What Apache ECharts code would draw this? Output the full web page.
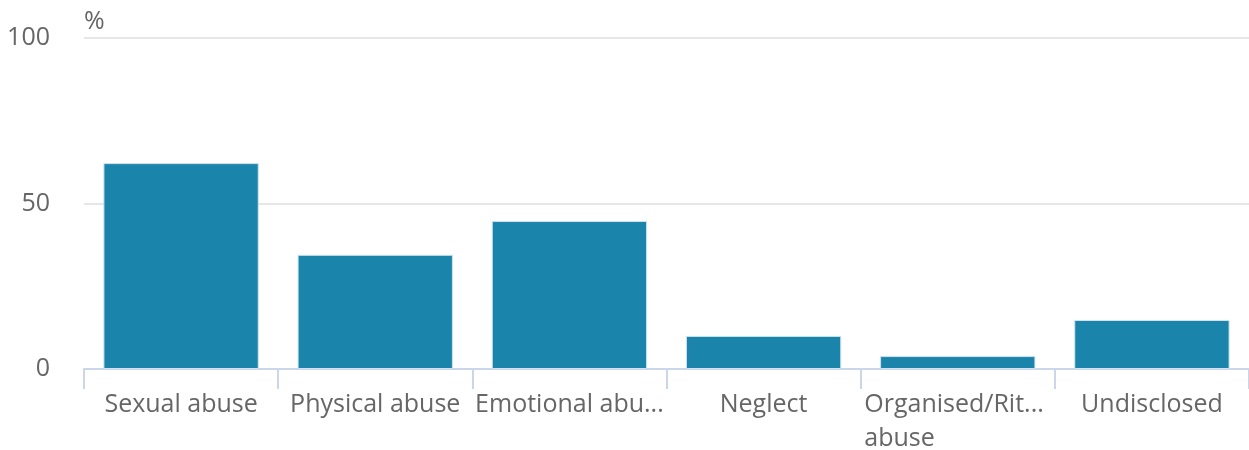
<!DOCTYPE html>
<html>
<head>
<meta charset="utf-8">
<script src="https://cdn.jsdelivr.net/npm/echarts@6/dist/echarts.min.js"></script>
<style>
  html, body { margin: 0; padding: 0; background: #fff; }
  #chart { width: 1249px; height: 450px; }
</style>
</head>
<body>
<div id="chart"></div>
<script>
// abuse types and share of respondents (%)
const categories = ['Sexual abuse', 'Physical abuse', 'Emotional abuse', 'Neglect', 'Organised/Ritual\nabuse', 'Undisclosed']
const values = [62.2, 34.5, 44.7, 10, 3.9, 14.8]
const yTicks = [0, 50, 100]

const labelFont = '25px "Open Sans", sans-serif'
const labelWidth = 190

const chart = echarts.init(document.getElementById('chart'))

const option = {
  animation: false,
  textStyle: { fontFamily: '"Open Sans", sans-serif' },
  grid: { left: 84, right: 0, top: 38, bottom: 81, outerBoundsMode: 'none', containLabel: false },
  xAxis: {
    type: 'category',
    data: categories,
    axisLine: { lineStyle: { color: '#ccd6eb', width: 2 } },
    axisTick: { show: true, length: 20, lineStyle: { color: '#ccd6eb', width: 2 } },
    axisLabel: {
      color: '#666',
      fontSize: 25,
      margin: 19,
      lineHeight: 34,
      interval: 0,
      // truncate each line; multi-line labels sit left-aligned in their slot
      formatter: v => {
        const lines = v.split('\n').map(s => echarts.format.truncateText(s, labelWidth, labelFont, '...'))
        if (lines.length === 1) return lines[0]
        return lines.map(s => '{l|' + s + '}').join('\n')
      },
      rich: { l: { width: 187, align: 'left', fontSize: 25, lineHeight: 34, color: '#666' } }
    }
  },
  yAxis: {
    type: 'value',
    min: yTicks[0],
    max: yTicks[yTicks.length - 1],
    interval: 50,
    name: '%',
    nameLocation: 'end',
    nameGap: 4,
    nameTextStyle: { color: '#666', fontSize: 25, align: 'left' },
    axisLabel: { color: '#666', fontSize: 25, margin: 34 },
    splitLine: { lineStyle: { color: '#e6e6e6', width: 2 } },
    axisLine: { show: false },
    axisTick: { show: false }
  },
  series: [{
    type: 'bar',
    data: values,
    barCategoryGap: '20%',
    itemStyle: { color: '#1b84aa', borderColor: '#cfe3ee', borderWidth: 1 }
  }]
}

chart.setOption(option)
</script>
</body>
</html>
